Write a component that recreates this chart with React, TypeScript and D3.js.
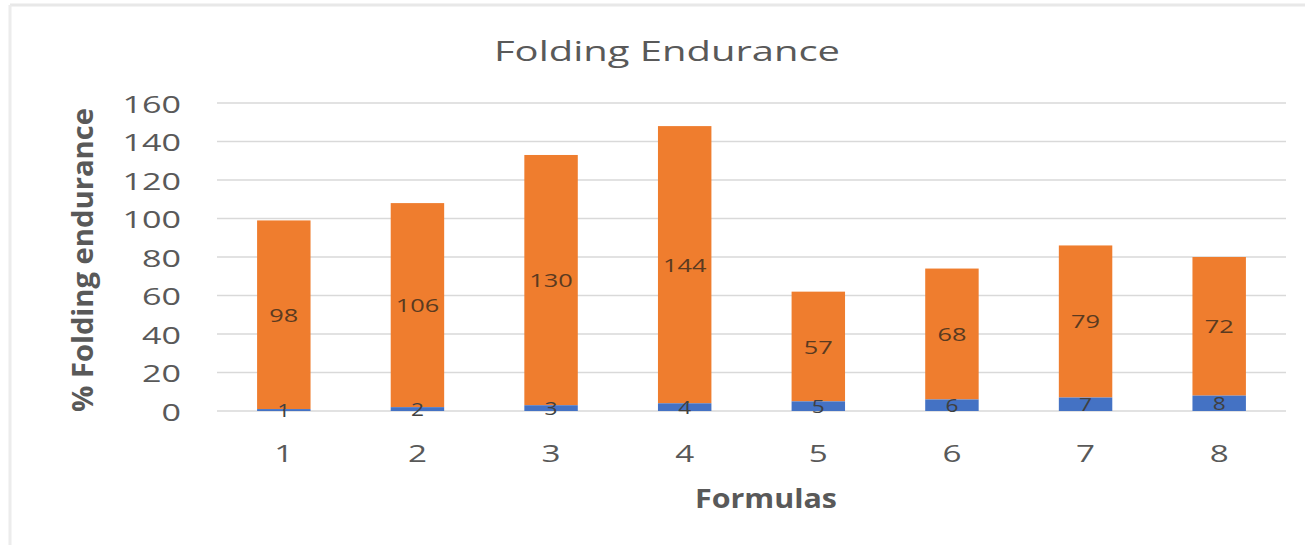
import React from "react";
import * as d3 from "d3";

const categories = ["1", "2", "3", "4", "5", "6", "7", "8"];
const blueValues = [1, 2, 3, 4, 5, 6, 7, 8];
const orangeValues = [98, 106, 130, 144, 57, 68, 79, 72];
const yTicks = [0, 20, 40, 60, 80, 100, 120, 140, 160];

const W = 1313;
const H = 545;
const plot = { left: 217, right: 1286, top: 103, bottom: 411 };
const FONT = "'Open Sans', 'Noto Sans', sans-serif";

export default function App() {
  const x = d3
    .scaleBand<string>()
    .domain(categories)
    .range([plot.left, plot.right])
    .paddingInner(0.6)
    .paddingOuter(0.3);
  const y = d3.scaleLinear().domain([0, 160]).range([plot.bottom, plot.top]);

  const stacked = categories.map((c, i) => ({
    c,
    b0: 0,
    b1: blueValues[i],
    o0: blueValues[i],
    o1: blueValues[i] + orangeValues[i],
  }));

  const cx = (c: string) => (x(c) as number) + x.bandwidth() / 2;

  return (
    <svg
      width={W}
      height={H}
      style={{ position: "absolute", left: 0, top: 0, background: "#fff" }}
    >
      <line x1={10} y1={5} x2={W - 8} y2={5} stroke="#e8e8e8" strokeWidth={3} />
      <line x1={10} y1={5} x2={10} y2={H} stroke="#ececec" strokeWidth={3} />

      <text
        x={667}
        y={50}
        textAnchor="middle"
        dominantBaseline="central"
        fontFamily={FONT}
        fontSize={28}
        fill="#595959"
        textLength={346}
        lengthAdjust="spacingAndGlyphs"
      >
        Folding Endurance
      </text>

      {yTicks.map((t) => (
        <g key={t}>
          <line
            x1={plot.left}
            x2={plot.right}
            y1={y(t)}
            y2={y(t)}
            stroke="#d9d9d9"
            strokeWidth={1.5}
          />
          <text
            x={181}
            y={y(t)}
            textAnchor="end"
            dominantBaseline="central"
            fontFamily={FONT}
            fontSize={24}
            fill="#595959"
            textLength={String(t).length * 19.5}
            lengthAdjust="spacingAndGlyphs"
          >
            {t}
          </text>
        </g>
      ))}

      {stacked.map((d) => (
        <g key={d.c}>
          <rect
            x={x(d.c)}
            width={x.bandwidth()}
            y={y(d.o1)}
            height={y(d.o0) - y(d.o1)}
            fill="#EF7D2E"
          />
          <rect
            x={x(d.c)}
            width={x.bandwidth()}
            y={y(d.b1)}
            height={y(d.b0) - y(d.b1)}
            fill="#4472C4"
          />
          <text
            x={cx(d.c)}
            y={y((d.o0 + d.o1) / 2)}
            textAnchor="middle"
            dominantBaseline="central"
            fontFamily={FONT}
            fontSize={18}
            fill="#5a3a20"
            textLength={String(d.o1 - d.o0).length * 14.5}
            lengthAdjust="spacingAndGlyphs"
          >
            {d.o1 - d.o0}
          </text>
          <text
            x={cx(d.c)}
            y={y((d.b0 + d.b1) / 2)}
            textAnchor="middle"
            dominantBaseline="central"
            fontFamily={FONT}
            fontSize={18}
            fill="#404040"
            textLength={String(d.b1 - d.b0).length * 13}
            lengthAdjust="spacingAndGlyphs"
          >
            {d.b1 - d.b0}
          </text>
          <text
            x={cx(d.c)}
            y={452}
            textAnchor="middle"
            dominantBaseline="central"
            fontFamily={FONT}
            fontSize={24}
            fill="#595959"
            textLength={d.c.length * 19}
            lengthAdjust="spacingAndGlyphs"
          >
            {d.c}
          </text>
        </g>
      ))}

      <text
        x={766}
        y={497}
        textAnchor="middle"
        dominantBaseline="central"
        fontFamily={FONT}
        fontSize={27}
        fontWeight="bold"
        fill="#595959"
        textLength={142}
        lengthAdjust="spacingAndGlyphs"
      >
        Formulas
      </text>

      <text
        transform={`translate(82, 260) rotate(-90)`}
        textAnchor="middle"
        dominantBaseline="central"
        fontFamily={FONT}
        fontSize={28}
        fontWeight="bold"
        fill="#595959"
        textLength={304}
        lengthAdjust="spacingAndGlyphs"
      >
        % Folding endurance
      </text>
    </svg>
  );
}
